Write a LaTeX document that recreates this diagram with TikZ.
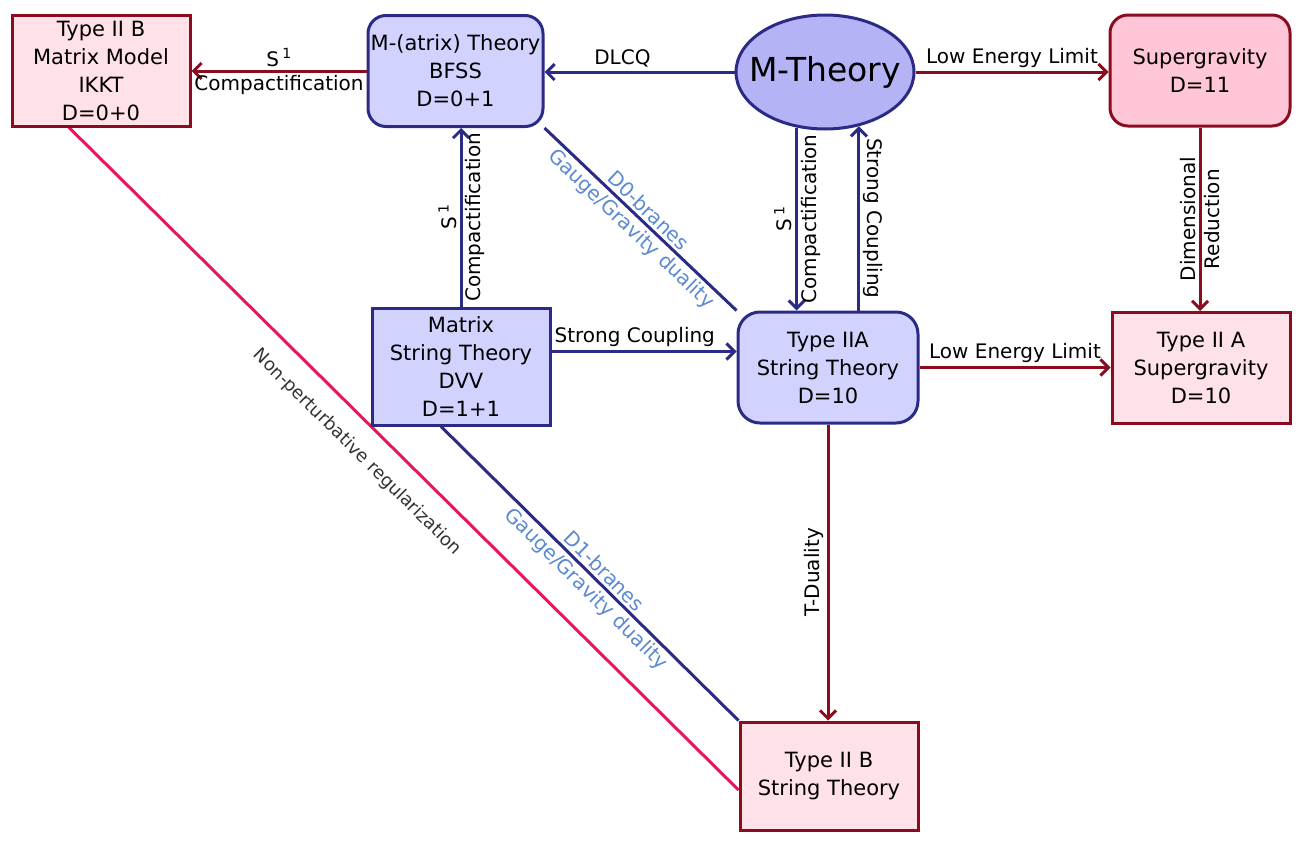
\documentclass[tikz,border=0pt]{standalone}
\usepackage{fontspec}
\setmainfont{DejaVu Sans}
\usetikzlibrary{shapes.geometric}
\usetikzlibrary{positioning}
\usetikzlibrary{calc}
\usetikzlibrary{arrows.meta}
\pgfdeclarelayer{background}
\pgfsetlayers{background,main}

\definecolor{navy}{HTML}{2B2B86}
\definecolor{wine}{HTML}{8B0B1F}
\definecolor{crimson}{HTML}{E8175D}
\definecolor{branetext}{HTML}{5B8AD2}
\definecolor{lavender}{HTML}{D2D2FF}
\definecolor{mfill}{HTML}{B3B3F5}
\definecolor{sugrafill}{HTML}{FFC6D8}
\definecolor{pinkfill}{HTML}{FFE1E9}

\begin{document}
\begin{tikzpicture}
	[
		x = 1pt, y = -1pt,
		every node/.style = {font = \fontsize{21}{28}\selectfont},
		mbox/.style = {rectangle, draw = navy, fill = lavender, line width = 3pt, minimum width = 175pt, minimum height = 111pt, inner sep = 0pt, align = center},
		mround/.style = {mbox, rounded corners = 18pt},
		sbox/.style = {rectangle, draw = wine, fill = pinkfill, line width = 3pt, minimum width = 178pt, minimum height = 111pt, inner sep = 0pt, align = center},
		sround/.style = {sbox, fill = sugrafill, rounded corners = 18pt},
		mtheory/.style = {ellipse, draw = navy, fill = mfill, line width = 3pt, minimum width = 178pt, minimum height = 114pt, inner xsep = -30pt, inner ysep = 0pt, font = \fontsize{33}{38}\selectfont},
		blueline/.style = {draw = navy, line width = 3pt},
		redline/.style = {draw = wine, line width = 3pt},
		arrowto/.style = {-{Straight Barb[length = 8pt, width = 16pt]}},
		lbl/.style = {font = \fontsize{20}{24}\selectfont, inner sep = 3pt},
		brane/.style = {lbl, text = branetext, sloped},
	]
	% theories
	\node (ikkt) [sbox] at (101,70.5) {Type II B\\Matrix Model\\IKKT\\D=0+0};
	\node (bfss) [mround] at (455.5,71) {M-(atrix) Theory\\BFSS\\D=0+1};
	\node (mth) [mtheory] at (825,72) {M-Theory};
	\node (sugra) [sround, minimum width = 180pt] at (1200,70.5) {Supergravity\\D=11};
	\node (dvv) [mbox, minimum width = 178pt, minimum height = 117pt] at (461,366.5) {Matrix\\String Theory\\DVV\\D=1+1};
	\node (iia) [mround, minimum width = 180pt, rounded corners = 22pt] at (828,367.5) {Type IIA\\String Theory\\D=10};
	\node (iias) [sbox] at (1201,368) {Type II A\\Supergravity\\D=10};
	\node (iib) [sbox, minimum height = 108pt] at (829,776) {Type II B\\String Theory};

	\begin{pgfonlayer}{background}
		\path [use as bounding box, fill = white] (0,0) rectangle (1299,846);
		% dualities
		\draw [blueline] (bfss.south east) -- node [brane, above] {D0-branes} node [brane, below] {Gauge/Gravity duality} (iia.north west);
		\draw [blueline] ([xshift = -20pt]dvv.south) -- node [brane, above, pos = 0.52] {D1-branes} node [brane, below, pos = 0.52] {Gauge/Gravity duality} (iib.north west);
		\draw [draw = crimson, line width = 3pt] ([xshift = -32pt]ikkt.south) -- node [lbl, sloped, below = 15pt, pos = 0.46, font = \fontsize{18}{20}\selectfont, text = black!80] {Non-perturbative regularization} ([yshift = -14pt]iib.west);
		% top row
		\draw [redline, arrowto] (bfss.west) -- node [lbl, above] {S\,\textsuperscript{1}} node [lbl, below] {Compactification} (bfss.west -| ikkt.east);
		\draw [blueline, arrowto] (mth.west) -- node [lbl, above, pos = 0.59] {DLCQ} (mth.west -| bfss.east);
		\draw [redline, arrowto] (mth.east) -- node [lbl, above] {Low Energy Limit} (mth.east -| sugra.west);
		% verticals
		\draw [redline, arrowto] (sugra.south) -- node [lbl, rotate = 90, anchor = south] {Dimensional} node [lbl, rotate = 90, anchor = north] {Reduction} (sugra.south |- iias.north);
		\draw [blueline, arrowto] (dvv.north) -- node [lbl, rotate = 90, anchor = south] {S\,\textsuperscript{1}} node [lbl, rotate = 90, anchor = north] {Compactification} (dvv.north |- bfss.south);
		\draw [blueline, arrowto] (mth.-117) -- node [lbl, rotate = 90, anchor = south] {S\,\textsuperscript{1}} node [lbl, rotate = 90, anchor = north] {Compactification} (mth.-117 |- iia.north);
		\draw [blueline, arrowto] (iia.north -| mth.-58) -- node [lbl, rotate = -90, anchor = south] {Strong Coupling} (mth.-58);
		\draw [redline, arrowto] (iia.south) -- node [lbl, rotate = 90, anchor = south] {T-Duality} (iia.south |- iib.north);
		% middle row
		\draw [blueline, arrowto] ([yshift = 15pt]dvv.east) -- node [lbl, above, pos = 0.45] {Strong Coupling} ([yshift = 15pt]dvv.east -| iia.west);
		\draw [redline, arrowto] (iia.east) -- node [lbl, above] {Low Energy Limit} (iia.east -| iias.west);
	\end{pgfonlayer}
\end{tikzpicture}
\end{document}
